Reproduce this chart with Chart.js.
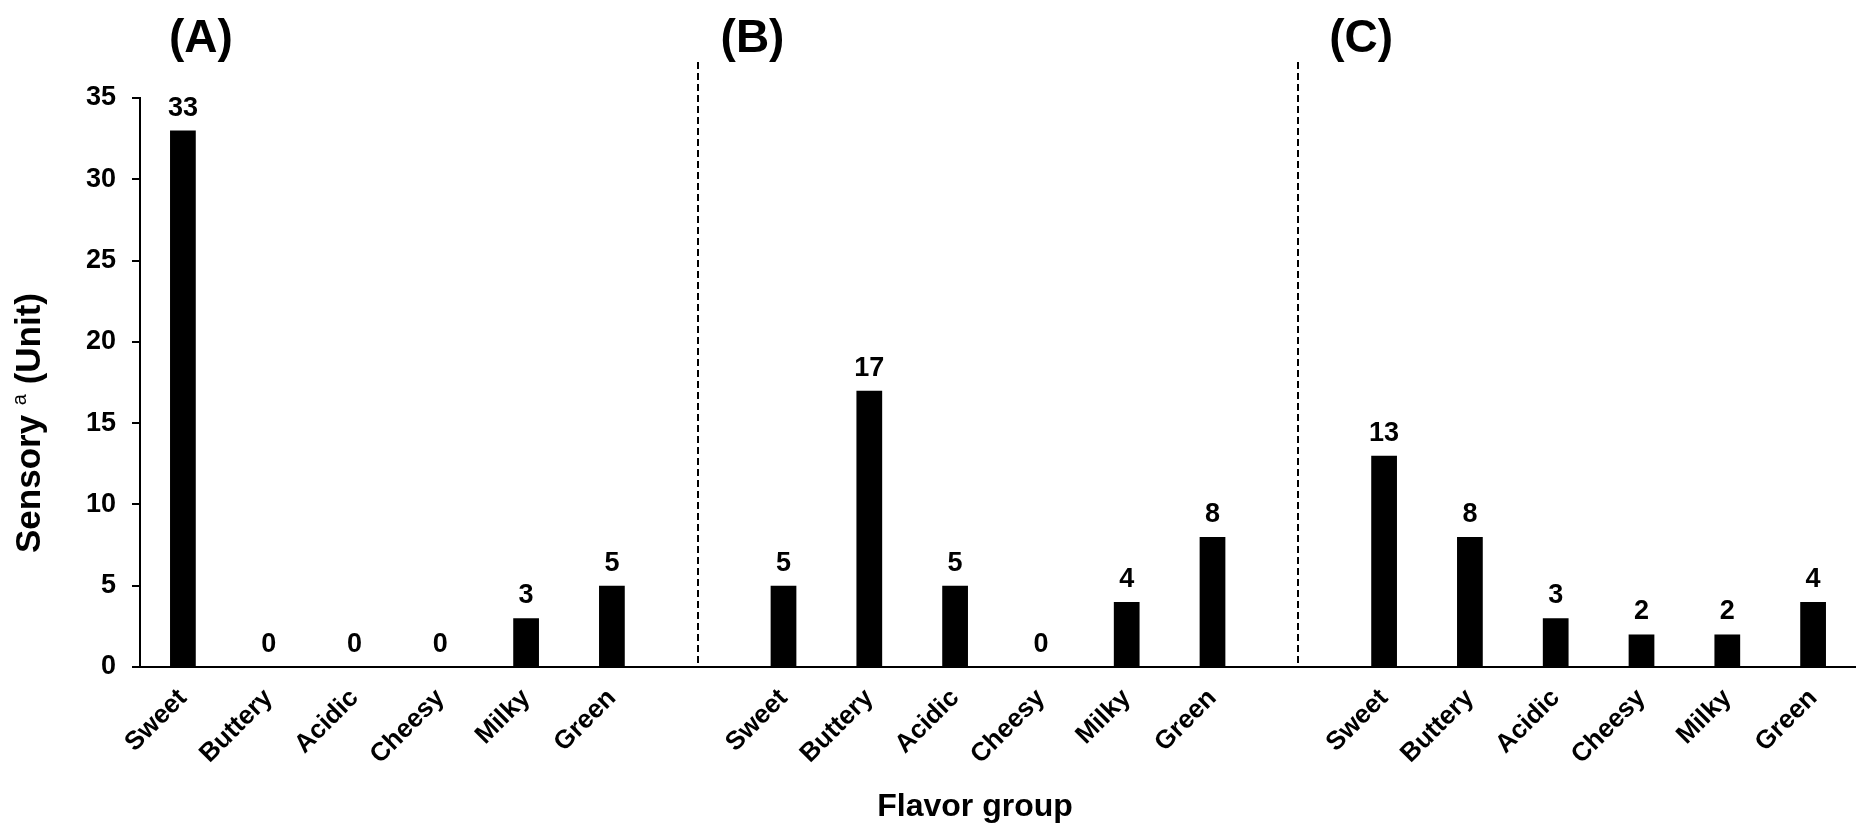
<!DOCTYPE html>
<html>
<head>
<meta charset="utf-8">
<title>Flavor group</title>
<script src="https://cdn.jsdelivr.net/npm/chart.js@4.4.1/dist/chart.umd.min.js"></script>
<style>
  html, body { margin: 0; padding: 0; background: #fff; }
  #wrap { width: 1856px; height: 828px; }
</style>
</head>
<body>
<div id="wrap"><canvas id="chart" width="1856" height="828"></canvas></div>
<script>
/* Data */
const flavors = ['Sweet', 'Buttery', 'Acidic', 'Cheesy', 'Milky', 'Green'];
const panels = ['(A)', '(B)', '(C)'];
const values_a = [33, 0, 0, 0, 3, 5];
const values_b = [5, 17, 5, 0, 4, 8];
const values_c = [13, 8, 3, 2, 2, 4];
const y_ticks = [0, 5, 10, 15, 20, 25, 30, 35];

/* One long category axis, with an empty slot between panels for the dashed divider */
const labels = [];
const values = [];
const separators = [];
const panel_starts = [];
[values_a, values_b, values_c].forEach((vals, p) => {
    if (p > 0) {
        separators.push(labels.length);
        labels.push('');
        values.push(null);
    }
    panel_starts.push(labels.length);
    flavors.forEach((f, i) => {
        labels.push(f);
        values.push(vals[i]);
    });
});

const FONT = '"Liberation Sans", Arial, Helvetica, sans-serif';
const title_offsets = [18, -31, -23];

/* value labels, dividers, panel letters and axis titles */
const decorations = {
    id: 'decorations',
    afterDraw(chart) {
        const ctx = chart.ctx;
        const xs = chart.scales.x;
        const area = chart.chartArea;
        ctx.save();
        ctx.fillStyle = '#000';
        ctx.strokeStyle = '#000';

        // numbers above bars
        ctx.font = `bold 27px ${FONT}`;
        ctx.textAlign = 'center';
        ctx.textBaseline = 'alphabetic';
        chart.getDatasetMeta(0).data.forEach((bar, i) => {
            if (values[i] === null) return;
            ctx.fillText(String(values[i]), bar.x, bar.y - 15);
        });

        // dashed dividers between panels
        ctx.lineWidth = 2;
        ctx.setLineDash([7, 4]);
        separators.forEach(idx => {
            const px = Math.round(xs.getPixelForValue(idx));
            ctx.beginPath();
            ctx.moveTo(px, area.top - 36);
            ctx.lineTo(px, area.bottom);
            ctx.stroke();
        });
        ctx.setLineDash([]);

        // baseline runs a little past the y axis
        ctx.beginPath();
        ctx.moveTo(area.left - 8, area.bottom);
        ctx.lineTo(area.left, area.bottom);
        ctx.stroke();

        // panel letters
        ctx.font = `bold 46px ${FONT}`;
        panels.forEach((t, p) => {
            ctx.fillText(t, xs.getPixelForValue(panel_starts[p]) + title_offsets[p], 52);
        });

        // x axis title
        ctx.font = `bold 32px ${FONT}`;
        ctx.fillText('Flavor group', 975, 816);

        // y axis title with superscript a
        ctx.translate(30, 423);
        ctx.rotate(-Math.PI / 2);
        ctx.textAlign = 'left';
        const big = `bold 35px ${FONT}`;
        const small = `20px ${FONT}`;
        ctx.font = big;
        const w1 = ctx.measureText('Sensory ').width;
        const w3 = ctx.measureText(' (Unit)').width;
        ctx.font = small;
        const w2 = ctx.measureText('a').width;
        const x0 = -(w1 + w2 + w3) / 2;
        ctx.font = big;
        ctx.fillText('Sensory ', x0, 10);
        ctx.font = small;
        ctx.fillText('a', x0 + w1, -4);
        ctx.font = big;
        ctx.fillText(' (Unit)', x0 + w1 + w2, 10);
        ctx.restore();
    }
};

new Chart(document.getElementById('chart'), {
    type: 'bar',
    data: {
        labels: labels,
        datasets: [{
            data: values,
            backgroundColor: '#000',
            borderWidth: 0,
            barPercentage: 0.3,
            categoryPercentage: 1.0
        }]
    },
    options: {
        responsive: false,
        animation: false,
        layout: { padding: { top: 98, left: 0, right: 0, bottom: 0 } },
        plugins: {
            legend: { display: false },
            tooltip: { enabled: false }
        },
        scales: {
            x: {
                grid: { display: false },
                border: { display: true, color: '#000', width: 2 },
                ticks: {
                    autoSkip: false,
                    maxRotation: 45,
                    minRotation: 45,
                    padding: 8,
                    color: '#000',
                    font: { family: FONT, size: 26, weight: 'bold' }
                },
                afterFit(scale) { scale.height = 161; }
            },
            y: {
                min: 0,
                max: 35,
                afterBuildTicks(scale) { scale.ticks = y_ticks.map(v => ({ value: v })); },
                grid: {
                    display: true,
                    drawOnChartArea: false,
                    drawTicks: true,
                    tickLength: 8,
                    color: '#000',
                    lineWidth: 2
                },
                border: { display: true, color: '#000', width: 2 },
                ticks: {
                    padding: 16,
                    color: '#000',
                    font: { family: FONT, size: 27, weight: 'bold' }
                },
                afterFit(scale) { scale.width = 140; }
            }
        }
    },
    plugins: [decorations]
});
</script>
</body>
</html>
